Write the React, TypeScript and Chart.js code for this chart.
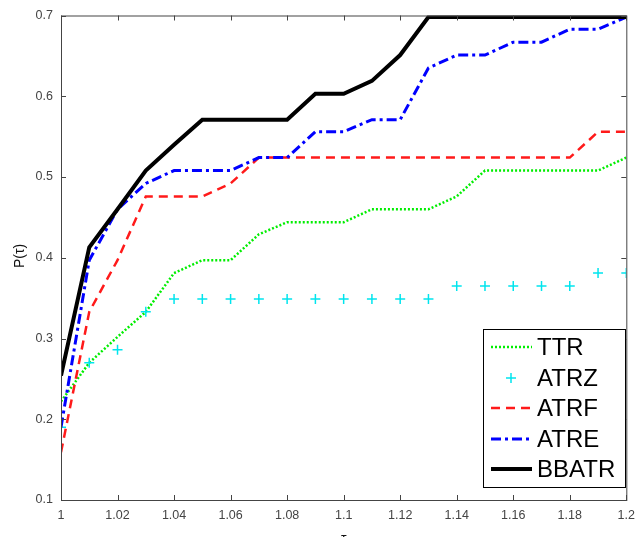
import React, { useEffect, useRef } from "react";
import { Chart, registerables } from "chart.js";

Chart.register(...registerables);

const TAU = [1.0, 1.01, 1.02, 1.03, 1.04, 1.05, 1.06, 1.07, 1.08, 1.09, 1.1, 1.11, 1.12, 1.13, 1.14, 1.15, 1.16, 1.17, 1.18, 1.19, 1.2];

const TTR = [0.222, 0.27, 0.302, 0.333, 0.381, 0.397, 0.397, 0.429, 0.444, 0.444, 0.444, 0.46, 0.46, 0.46, 0.476, 0.508, 0.508, 0.508, 0.508, 0.508, 0.524];
const ATRZ = [0.19, 0.27, 0.286, 0.333, 0.349, 0.349, 0.349, 0.349, 0.349, 0.349, 0.349, 0.349, 0.349, 0.349, 0.365, 0.365, 0.365, 0.365, 0.365, 0.381, 0.381];
const ATRF = [0.159, 0.333, 0.397, 0.476, 0.476, 0.476, 0.492, 0.524, 0.524, 0.524, 0.524, 0.524, 0.524, 0.524, 0.524, 0.524, 0.524, 0.524, 0.524, 0.556, 0.556];
const ATRE = [0.19, 0.397, 0.46, 0.492, 0.508, 0.508, 0.508, 0.524, 0.524, 0.556, 0.556, 0.571, 0.571, 0.635, 0.651, 0.651, 0.667, 0.667, 0.683, 0.683, 0.698];
const BBATR = [0.254, 0.413, 0.46, 0.508, 0.54, 0.571, 0.571, 0.571, 0.571, 0.603, 0.603, 0.619, 0.651, 0.698, 0.698, 0.698, 0.698, 0.698, 0.698, 0.698, 0.698];

const X_TICKS = [1.0, 1.02, 1.04, 1.06, 1.08, 1.1, 1.12, 1.14, 1.16, 1.18, 1.2];
const Y_TICKS = [0.1, 0.2, 0.3, 0.4, 0.5, 0.6, 0.7];

const SERIES_NAMES = ["TTR", "ATRZ", "ATRF", "ATRE", "BBATR"];
const X_TITLE = "τ";
const Y_TITLE = "P(τ)";

const fmt = (v: number, d: number) => String(Number(v.toFixed(d)));
const pts = (ys: number[]) => TAU.map((x, i) => ({ x, y: ys[i] }));

const FONT = "'Liberation Sans', Arial, sans-serif";

const styles = [
  { color: "#00ee00", dash: [2, 2], width: 2.5, marker: false },
  { color: "#00e5ee", dash: [], width: 1.5, marker: true },
  { color: "#ff1a1a", dash: [9, 6], width: 2.5, marker: false },
  { color: "#0000ff", dash: [10, 4, 3, 4], width: 3, marker: false },
  { color: "#000000", dash: [], width: 4, marker: false },
];

const framePlugin = {
  id: "frame",
  afterDraw(chart: any) {
    const { ctx, chartArea: a, scales } = chart;
    ctx.save();
    ctx.strokeStyle = "#444";
    ctx.lineWidth = 1;
    ctx.setLineDash([]);
    ctx.strokeRect(a.left + 0.5, a.top + 0.5, a.right - a.left, a.bottom - a.top);
    const tl = 5;
    ctx.beginPath();
    X_TICKS.forEach((v) => {
      const x = Math.round(scales.x.getPixelForValue(v)) + 0.5;
      ctx.moveTo(x, a.bottom);
      ctx.lineTo(x, a.bottom - tl);
      ctx.moveTo(x, a.top);
      ctx.lineTo(x, a.top + tl);
    });
    Y_TICKS.forEach((v) => {
      const y = Math.round(scales.y.getPixelForValue(v)) + 0.5;
      ctx.moveTo(a.left, y);
      ctx.lineTo(a.left + tl, y);
      ctx.moveTo(a.right, y);
      ctx.lineTo(a.right - tl, y);
    });
    ctx.stroke();

    ctx.fillStyle = "#111";
    ctx.font = `14px ${FONT}`;
    ctx.textAlign = "center";
    ctx.textBaseline = "middle";
    ctx.fillText(X_TITLE, (a.left + a.right) / 2, 539);
    ctx.save();
    ctx.translate(20, 256);
    ctx.rotate(-Math.PI / 2);
    ctx.fillText(Y_TITLE, 0, 0);
    ctx.restore();

    const bx = 483, by = 329, bw = 142, bh = 158;
    ctx.fillStyle = "#fff";
    ctx.fillRect(bx, by, bw, bh);
    ctx.strokeStyle = "#000";
    ctx.lineWidth = 1;
    ctx.strokeRect(bx + 0.5, by + 0.5, bw, bh);
    const rows = [347, 378, 408, 439, 469];
    ctx.font = `24px ${FONT}`;
    ctx.textAlign = "left";
    SERIES_NAMES.forEach((name, i) => {
      const s = styles[i];
      const y = rows[i];
      ctx.strokeStyle = s.color;
      if (s.marker) {
        ctx.lineWidth = 1.5;
        ctx.setLineDash([]);
        ctx.beginPath();
        ctx.moveTo(511 - 5, y);
        ctx.lineTo(511 + 5, y);
        ctx.moveTo(511, y - 5);
        ctx.lineTo(511, y + 5);
        ctx.stroke();
      } else {
        ctx.lineWidth = s.width;
        ctx.setLineDash(s.dash);
        ctx.beginPath();
        ctx.moveTo(491, y);
        ctx.lineTo(532, y);
        ctx.stroke();
      }
      ctx.setLineDash([]);
      ctx.fillStyle = "#000";
      ctx.fillText(name, 537, y + 1);
    });
    ctx.restore();
  },
};

export default function App() {
  const ref = useRef<HTMLCanvasElement | null>(null);
  useEffect(() => {
    document.body.style.margin = "0";
    if (!ref.current) return;
    const seriesData = [TTR, ATRZ, ATRF, ATRE, BBATR];
    const chart = new Chart(ref.current, {
      type: "line",
      data: {
        datasets: seriesData.map((d, i) => {
          const s = styles[i];
          return {
            label: SERIES_NAMES[i],
            data: pts(d),
            borderColor: s.color,
            backgroundColor: s.color,
            borderWidth: s.width,
            borderDash: s.dash,
            showLine: !s.marker,
            pointStyle: s.marker ? "cross" : "circle",
            pointRadius: s.marker ? 5 : 0,
            pointBorderWidth: s.marker ? 1.5 : 0,
            pointBorderColor: s.color,
            tension: 0,
            fill: false,
            order: 5 - i,
          } as any;
        }),
      },
      options: {
        responsive: false,
        animation: false,
        devicePixelRatio: 1,
        layout: { padding: { top: 13, right: 6, left: 0, bottom: 0 } },
        plugins: { legend: { display: false }, tooltip: { enabled: false } },
        scales: {
          x: {
            type: "linear",
            min: 1,
            max: 1.2,
            grid: { display: false, drawTicks: false },
            border: { display: false },
            afterBuildTicks: (s: any) => {
              s.ticks = X_TICKS.map((v) => ({ value: v }));
            },
            afterFit: (s: any) => {
              s.height = 37;
            },
            ticks: {
              padding: 8,
              color: "#444",
              font: { family: FONT, size: 12.5 },
              maxRotation: 0,
              autoSkip: false,
              callback: (v: any) => fmt(Number(v), 2),
            },
          },
          y: {
            type: "linear",
            min: 0.1,
            max: 0.7,
            grid: { display: false, drawTicks: false },
            border: { display: false },
            afterBuildTicks: (s: any) => {
              s.ticks = Y_TICKS.map((v) => ({ value: v }));
            },
            afterFit: (s: any) => {
              s.width = 61;
            },
            ticks: {
              padding: 8,
              color: "#444",
              font: { family: FONT, size: 12.5 },
              autoSkip: false,
              callback: (v: any) => fmt(Number(v), 1),
            },
          },
        },
      },
      plugins: [framePlugin],
    });
    return () => chart.destroy();
  }, []);
  return <canvas ref={ref} width={643} height={537} style={{ display: "block", width: 643, height: 537 }} />;
}
